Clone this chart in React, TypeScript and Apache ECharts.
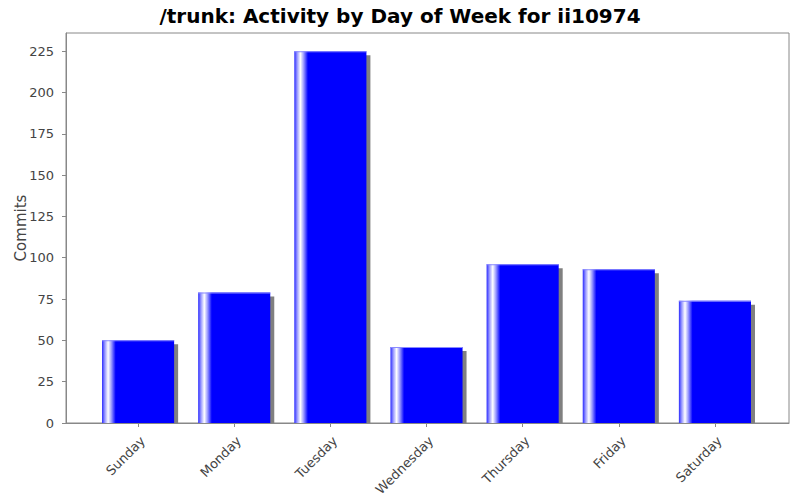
import { useEffect, useRef } from 'react';
import * as echarts from 'echarts';

const title = '/trunk: Activity by Day of Week for ii10974';
const days = ['Sunday', 'Monday', 'Tuesday', 'Wednesday', 'Thursday', 'Friday', 'Saturday'];
const commits = [50, 79, 225, 46, 96, 93, 74];
const yMax = 236;
const yStep = 25;

const FONT = '"DejaVu Sans", sans-serif';
const GRAY = '#888888';

const App = () => {
    const chartRef = useRef<HTMLDivElement>(null);

    useEffect(() => {
        if (!chartRef.current) return;
        const chart = echarts.init(chartRef.current, null, { renderer: 'svg' });

        // JFreeChart style gradient: light streak near the left edge of each bar
        const barFill = new echarts.graphic.LinearGradient(0, 0, 1, 0, [
            { offset: 0, color: '#2a2aff' },
            { offset: 0.04, color: '#9a9aff' },
            { offset: 0.085, color: '#ffffff' },
            { offset: 0.13, color: '#9a9aff' },
            { offset: 0.19, color: '#0000ff' },
            { offset: 1, color: '#0000ff' },
        ]);

        const option: any = {
            animation: false,
            backgroundColor: '#ffffff',
            title: {
                text: title,
                left: 'center',
                top: 1,
                textStyle: { fontFamily: FONT, fontSize: 20, fontWeight: 'bold', color: '#000' },
            },
            grid: [
                // plot frame + value axis
                { left: 66, top: 33, right: 11, bottom: 77, show: true, borderColor: GRAY, borderWidth: 1, backgroundColor: '#fff' },
                // category area with JFreeChart-like outer margins
                { left: 90, top: 33, right: 37, bottom: 77 },
            ],
            xAxis: [
                {
                    type: 'value', gridIndex: 0, min: 0, max: 1, offset: 4,
                    axisLine: { show: true, lineStyle: { color: GRAY } },
                    axisTick: { show: false }, axisLabel: { show: false }, splitLine: { show: false },
                },
                {
                    type: 'category', gridIndex: 1, data: days, offset: 4,
                    axisLine: { show: true, lineStyle: { color: GRAY } },
                    axisTick: { show: true, alignWithLabel: true, length: 4, lineStyle: { color: GRAY } },
                    axisLabel: { rotate: 45, margin: 7, verticalAlign: 'top', fontFamily: FONT, fontSize: 13, color: '#444' },
                },
            ],
            yAxis: [
                {
                    type: 'value', gridIndex: 0, min: 0, max: yMax, interval: yStep, offset: 4,
                    name: 'Commits', nameLocation: 'middle', nameGap: 34, nameMoveOverlap: false,
                    nameTextStyle: { fontFamily: FONT, fontSize: 15, color: '#444' },
                    axisLine: { show: true, lineStyle: { color: GRAY } },
                    axisTick: { show: true, length: 4, lineStyle: { color: GRAY } },
                    axisLabel: { margin: 8, showMaxLabel: false, fontFamily: FONT, fontSize: 13, color: '#444' },
                    splitLine: { show: false },
                },
                { type: 'value', gridIndex: 1, min: 0, max: yMax, show: false },
            ],
            series: [
                {
                    type: 'custom',
                    xAxisIndex: 1,
                    yAxisIndex: 1,
                    encode: { x: 0, y: 1 },
                    data: days.map((_, i) => [i, commits[i]]),
                    renderItem: (_params: any, api: any) => {
                        const cat = api.value(0);
                        const top = api.coord([cat, api.value(1)]);
                        const base = api.coord([cat, 0]);
                        const band = api.size([1, 0])[0];
                        const w = band * 0.75;
                        const x = top[0] - w / 2;
                        const h = base[1] - top[1];
                        return {
                            type: 'group',
                            children: [
                                { type: 'rect', shape: { x: x + 4, y: top[1] + 4, width: w, height: Math.max(h - 4, 0) }, style: { fill: '#808080' } },
                                { type: 'rect', shape: { x, y: top[1], width: w, height: h }, style: { fill: barFill } },
                                { type: 'rect', shape: { x, y: top[1], width: w, height: 1 }, style: { fill: '#8a8aff' } },
                            ],
                        };
                    },
                },
            ],
        };

        chart.setOption(option);
        return () => chart.dispose();
    }, []);

    return <div ref={chartRef} style={{ position: 'absolute', left: 0, top: 0, width: 800, height: 500 }} />;
};

export default App;
